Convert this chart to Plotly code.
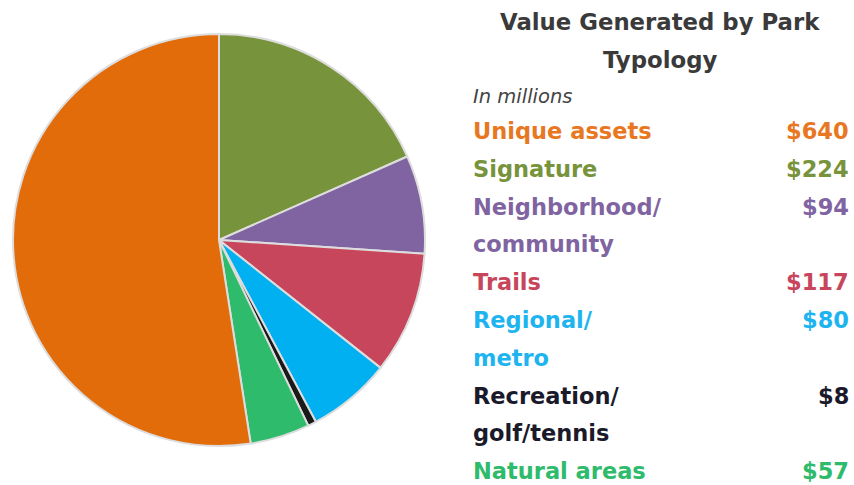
import plotly.graph_objects as go

W, H = 854, 485

categories = ["Signature", "Neighborhood/ community", "Trails", "Regional/ metro",
              "Recreation/ golf/tennis", "Natural areas", "Unique assets"]
values = [224, 94, 117, 80, 8, 57, 640]
slice_colors = ["#77933C", "#8064A2", "#C8465C", "#00B0F0", "#1A1A1A", "#2EBB6B", "#E26B0A"]

legend_labels = ["Unique assets", "Signature", "Neighborhood/<br>community", "Trails",
                 "Regional/<br>metro", "Recreation/<br>golf/tennis", "Natural areas"]
legend_values = [640, 224, 94, 117, 80, 8, 57]
legend_colors = ["#E87722", "#77933C", "#8064A2", "#C8465C", "#1EB4F0", "#1A1A2A", "#2EBB6B"]
legend_rows = [1, 2, 3, 5, 6, 8, 10]  # row index (line) of each legend entry

fig = go.Figure()
fig.add_trace(go.Pie(
    labels=categories, values=values, sort=False, direction="clockwise", rotation=0,
    marker=dict(colors=slice_colors, line=dict(color="#DDDDDD", width=2)),
    textinfo="none", hoverinfo="label+value", showlegend=False,
    domain=dict(x=[13 / W, 425 / W], y=[1 - 446 / H, 1 - 34 / H]),
))

def py(ypx):
    return 1 - ypx / H

FONT = "'DejaVu Sans', sans-serif"
ann = []
ann.append(dict(text="<b>Value Generated by Park</b>", x=660 / W, y=py(22), xanchor="center",
                yanchor="middle", font=dict(size=22.8, color="#3A3A3A", family=FONT)))
ann.append(dict(text="<b>Typology</b>", x=660 / W, y=py(60), xanchor="center",
                yanchor="middle", font=dict(size=22.8, color="#3A3A3A", family=FONT)))
ann.append(dict(text="<i>In millions</i>", x=471 / W, y=py(97), xanchor="left",
                yanchor="middle", font=dict(size=19.5, color="#444444", family=FONT)))

row0 = 131
step = 37.8
for lab, val, col, r in zip(legend_labels, legend_values, legend_colors, legend_rows):
    ycen = row0 + (r - 1) * step
    parts = lab.split("<br>")
    for i, p in enumerate(parts):
        ann.append(dict(text="<b>" + p + "</b>", x=471 / W, y=py(ycen + i * step), xanchor="left",
                        yanchor="middle", font=dict(size=22.5, color=col, family=FONT)))
    ann.append(dict(text="<b>$" + str(val) + "</b>", x=851 / W, y=py(ycen), xanchor="right",
                    yanchor="middle", font=dict(size=22.5, color=col, family=FONT)))

for a in ann:
    a.update(xref="paper", yref="paper", showarrow=False)

fig.update_layout(
    width=W, height=H, margin=dict(l=0, r=0, t=0, b=0),
    paper_bgcolor="white", plot_bgcolor="white",
    font=dict(family=FONT),
    annotations=ann,
)
fig.write_html("out.html", config={"displayModeBar": False},
               post_script="document.body.style.margin='0';document.body.style.overflow='hidden';")
